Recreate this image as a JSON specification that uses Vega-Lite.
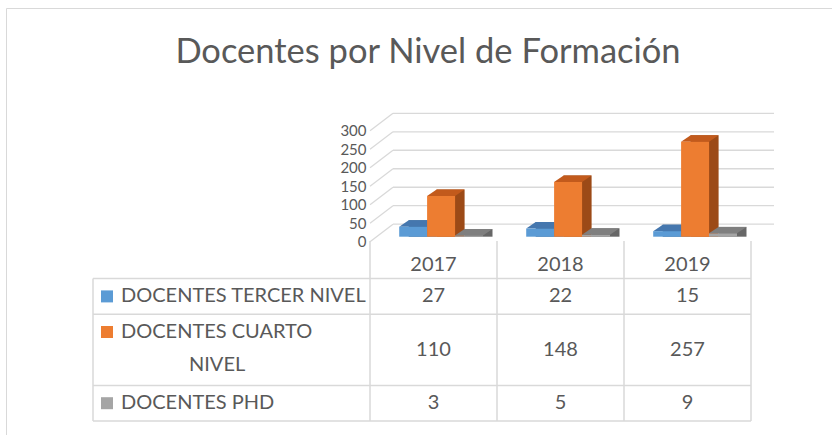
{
  "$schema": "https://vega.github.io/schema/vega-lite/v6.json",
  "width": 832,
  "height": 435,
  "autosize": {"type": "fit", "contains": "padding"},
  "padding": {"left": 6, "top": 8, "right": 0, "bottom": 0},
  "background": "white",
  "title": {"text": "Docentes por Nivel de Formación", "anchor": "middle", "offset": -89, "baseline": "alphabetic", "dx": 9, "fontSize": 34.5, "font": "Lato", "fontWeight": "normal", "color": "#595959"},
  "config": {
    "view": {"stroke": "#d9d9d9", "strokeWidth": 1},
    "axisX": {"disable": true},
    "text": {"font": "Lato", "fontSize": 20, "color": "#595959"}
  },
  "datasets": {
    "docentes": [
      {"anio": "2017", "serie": "DOCENTES TERCER NIVEL", "valor": 27},
      {"anio": "2017", "serie": "DOCENTES CUARTO NIVEL", "valor": 110},
      {"anio": "2017", "serie": "DOCENTES PHD", "valor": 3},
      {"anio": "2018", "serie": "DOCENTES TERCER NIVEL", "valor": 22},
      {"anio": "2018", "serie": "DOCENTES CUARTO NIVEL", "valor": 148},
      {"anio": "2018", "serie": "DOCENTES PHD", "valor": 5},
      {"anio": "2019", "serie": "DOCENTES TERCER NIVEL", "valor": 15},
      {"anio": "2019", "serie": "DOCENTES CUARTO NIVEL", "valor": 257},
      {"anio": "2019", "serie": "DOCENTES PHD", "valor": 9}
    ],
    "ticks": [
      {"valor": 0}, {"valor": 50}, {"valor": 100}, {"valor": 150}, {"valor": 200}, {"valor": 250}, {"valor": 300}
    ],
    "filas": [
      {"serie": "DOCENTES TERCER NIVEL", "linea1": "DOCENTES TERCER NIVEL", "linea2": ""},
      {"serie": "DOCENTES CUARTO NIVEL", "linea1": "DOCENTES CUARTO", "linea2": "NIVEL"},
      {"serie": "DOCENTES PHD", "linea1": "DOCENTES PHD", "linea2": ""}
    ]
  },
  "layer": [
    {
      "encoding": {
        "y": {"field": "valor", "type": "quantitative", "stack": null,
          "scale": {"domain": [0, 300], "range": [228.7, 117.8], "nice": false, "zero": true},
          "axis": {"offset": -364, "values": [0, 50, 100, 150, 200, 250, 300], "labelOverlap": false, "domain": false, "ticks": false, "grid": false, "labelPadding": 4, "labelOffset": 5, "labelFontSize": 15, "labelColor": "#595959", "labelFont": "Lato", "title": null}}
      },
      "layer": [
        {"data": {"name": "ticks"},
          "mark": {"type": "rule", "color": "#d9d9d9", "strokeWidth": 1.3, "xOffset": 23, "x2Offset": 23, "yOffset": -12.5},
          "encoding": {
            "x": {"datum": "2017", "type": "nominal", "bandPosition": 0, "scale": {"type": "band", "domain": ["2017", "2018", "2019"], "range": [364, 745], "paddingInner": 0, "paddingOuter": 0}},
            "x2": {"datum": "2019", "bandPosition": 1}
          }},
        {"data": {"name": "ticks"},
          "mark": {"type": "rule", "color": "#d9d9d9", "strokeWidth": 1.3, "x2Offset": 23, "yOffset": 5, "y2Offset": -12.5},
          "encoding": {
            "x": {"datum": "2017", "type": "nominal", "bandPosition": 0, "scale": {"type": "band", "domain": ["2017", "2018", "2019"], "range": [364, 745], "paddingInner": 0, "paddingOuter": 0}},
            "x2": {"datum": "2017", "bandPosition": 0},
            "y2": {"field": "valor"}
          }},
        {"data": {"name": "docentes"}, "transform": [{"filter": {"field": "serie", "equal": "DOCENTES TERCER NIVEL"}}],
          "mark": {"type": "bar", "width": 28, "xOffset": -10.8, "yOffset": -6.5, "color": "#3A6593"},
          "encoding": {"x": {"field": "anio", "type": "nominal", "scale": {"type": "band", "domain": ["2017", "2018", "2019"], "range": [364, 745], "paddingInner": 0, "paddingOuter": 0}}}},
        {"data": {"name": "docentes"}, "transform": [{"filter": {"field": "serie", "equal": "DOCENTES TERCER NIVEL"}}],
          "mark": {"type": "point", "shape": "M-1,0L1,0L1.679,-0.464L-0.321,-0.464Z", "size": 784, "filled": true, "opacity": 1, "strokeWidth": 0, "color": "#4577AE", "xOffset": -20.3},
          "encoding": {"x": {"field": "anio", "type": "nominal", "scale": {"type": "band", "domain": ["2017", "2018", "2019"], "range": [364, 745], "paddingInner": 0, "paddingOuter": 0}}}},
        {"data": {"name": "docentes"}, "transform": [{"filter": {"field": "serie", "equal": "DOCENTES TERCER NIVEL"}}],
          "mark": {"type": "bar", "width": 28, "xOffset": -20.3},
          "encoding": {"x": {"field": "anio", "type": "nominal", "scale": {"type": "band", "domain": ["2017", "2018", "2019"], "range": [364, 745], "paddingInner": 0, "paddingOuter": 0}},
            "color": {"field": "serie", "type": "nominal", "scale": {"domain": ["DOCENTES TERCER NIVEL", "DOCENTES CUARTO NIVEL", "DOCENTES PHD"], "range": ["#5B9BD5", "#ED7D31", "#A5A5A5"]}, "legend": null}}},
        {"data": {"name": "docentes"}, "transform": [{"filter": {"field": "serie", "equal": "DOCENTES CUARTO NIVEL"}}],
          "mark": {"type": "bar", "width": 28, "xOffset": 17.1, "yOffset": -6.5, "color": "#9C4A17"},
          "encoding": {"x": {"field": "anio", "type": "nominal", "scale": {"type": "band", "domain": ["2017", "2018", "2019"], "range": [364, 745], "paddingInner": 0, "paddingOuter": 0}}}},
        {"data": {"name": "docentes"}, "transform": [{"filter": {"field": "serie", "equal": "DOCENTES CUARTO NIVEL"}}],
          "mark": {"type": "point", "shape": "M-1,0L1,0L1.679,-0.464L-0.321,-0.464Z", "size": 784, "filled": true, "opacity": 1, "strokeWidth": 0, "color": "#C25A1C", "xOffset": 7.6},
          "encoding": {"x": {"field": "anio", "type": "nominal", "scale": {"type": "band", "domain": ["2017", "2018", "2019"], "range": [364, 745], "paddingInner": 0, "paddingOuter": 0}}}},
        {"data": {"name": "docentes"}, "transform": [{"filter": {"field": "serie", "equal": "DOCENTES CUARTO NIVEL"}}],
          "mark": {"type": "bar", "width": 28, "xOffset": 7.6},
          "encoding": {"x": {"field": "anio", "type": "nominal", "scale": {"type": "band", "domain": ["2017", "2018", "2019"], "range": [364, 745], "paddingInner": 0, "paddingOuter": 0}},
            "color": {"field": "serie", "type": "nominal", "legend": null}}},
        {"data": {"name": "docentes"}, "transform": [{"filter": {"field": "serie", "equal": "DOCENTES PHD"}}],
          "mark": {"type": "bar", "width": 28, "xOffset": 45, "yOffset": -6.5, "color": "#676767"},
          "encoding": {"x": {"field": "anio", "type": "nominal", "scale": {"type": "band", "domain": ["2017", "2018", "2019"], "range": [364, 745], "paddingInner": 0, "paddingOuter": 0}}}},
        {"data": {"name": "docentes"}, "transform": [{"filter": {"field": "serie", "equal": "DOCENTES PHD"}}],
          "mark": {"type": "point", "shape": "M-1,0L1,0L1.679,-0.464L-0.321,-0.464Z", "size": 784, "filled": true, "opacity": 1, "strokeWidth": 0, "color": "#7F7F7F", "xOffset": 35.5},
          "encoding": {"x": {"field": "anio", "type": "nominal", "scale": {"type": "band", "domain": ["2017", "2018", "2019"], "range": [364, 745], "paddingInner": 0, "paddingOuter": 0}}}},
        {"data": {"name": "docentes"}, "transform": [{"filter": {"field": "serie", "equal": "DOCENTES PHD"}}],
          "mark": {"type": "bar", "width": 28, "xOffset": 35.5},
          "encoding": {"x": {"field": "anio", "type": "nominal", "scale": {"type": "band", "domain": ["2017", "2018", "2019"], "range": [364, 745], "paddingInner": 0, "paddingOuter": 0}},
            "color": {"field": "serie", "type": "nominal", "legend": null}}}
      ]
    },
    {
      "layer": [
        {"data": {"name": "docentes"}, "transform": [{"filter": {"field": "serie", "equal": "DOCENTES TERCER NIVEL"}}],
          "mark": {"type": "rule", "color": "#d9d9d9", "strokeWidth": 1.5, "yOffset": -2},
          "encoding": {
            "x": {"field": "anio", "type": "nominal", "bandPosition": 0, "scale": {"type": "band", "domain": ["2017", "2018", "2019"], "range": [364, 745], "paddingInner": 0, "paddingOuter": 0}},
            "y": {"datum": "encabezado", "type": "nominal", "bandPosition": 0, "axis": null, "scale": {"type": "band", "domain": ["encabezado", "DOCENTES TERCER NIVEL", "DOCENTES CUARTO NIVEL", "DOCENTES CUARTO NIVEL (2)", "DOCENTES PHD"], "range": [235, 413], "paddingInner": 0, "paddingOuter": 0}},
            "y2": {"datum": "DOCENTES PHD", "bandPosition": 1}
          }},
        {"data": {"values": [{}]},
          "mark": {"type": "rule", "color": "#d9d9d9", "strokeWidth": 1.5, "yOffset": -2},
          "encoding": {
            "x": {"datum": "2019", "type": "nominal", "bandPosition": 1, "scale": {"type": "band", "domain": ["2017", "2018", "2019"], "range": [364, 745], "paddingInner": 0, "paddingOuter": 0}},
            "y": {"datum": "encabezado", "type": "nominal", "bandPosition": 0, "axis": null},
            "y2": {"datum": "DOCENTES PHD", "bandPosition": 1}
          }},
        {"data": {"name": "filas"},
          "mark": {"type": "rule", "color": "#d9d9d9", "strokeWidth": 1.5},
          "encoding": {
            "x": {"datum": "2017", "type": "nominal", "bandPosition": 0, "scale": {"type": "band", "domain": ["2017", "2018", "2019"], "range": [364, 745], "paddingInner": 0, "paddingOuter": 0}},
            "x2": {"datum": "2019", "bandPosition": 1},
            "y": {"field": "serie", "type": "nominal", "bandPosition": 0, "axis": null}
          }},
        {"data": {"values": [{}]},
          "mark": {"type": "rule", "color": "#d9d9d9", "strokeWidth": 1.5},
          "encoding": {
            "x": {"datum": "2017", "type": "nominal", "bandPosition": 0, "scale": {"type": "band", "domain": ["2017", "2018", "2019"], "range": [364, 745], "paddingInner": 0, "paddingOuter": 0}},
            "x2": {"datum": "2019", "bandPosition": 1},
            "y": {"datum": "DOCENTES PHD", "type": "nominal", "bandPosition": 1, "axis": null}
          }},
        {"data": {"name": "docentes"}, "transform": [{"filter": {"field": "serie", "equal": "DOCENTES TERCER NIVEL"}}],
          "mark": {"type": "text", "dy": 4},
          "encoding": {
            "x": {"field": "anio", "type": "nominal", "scale": {"type": "band", "domain": ["2017", "2018", "2019"], "range": [364, 745], "paddingInner": 0, "paddingOuter": 0}},
            "y": {"datum": "encabezado", "type": "nominal", "axis": null},
            "text": {"field": "anio"}
          }},
        {"data": {"name": "docentes"}, "transform": [{"filter": {"field": "serie", "oneOf": ["DOCENTES TERCER NIVEL", "DOCENTES PHD"]}}],
          "mark": {"type": "text"},
          "encoding": {
            "x": {"field": "anio", "type": "nominal", "scale": {"type": "band", "domain": ["2017", "2018", "2019"], "range": [364, 745], "paddingInner": 0, "paddingOuter": 0}},
            "y": {"field": "serie", "type": "nominal", "axis": null},
            "text": {"field": "valor"}
          }},
        {"data": {"name": "docentes"}, "transform": [{"filter": {"field": "serie", "equal": "DOCENTES CUARTO NIVEL"}}],
          "mark": {"type": "text"},
          "encoding": {
            "x": {"field": "anio", "type": "nominal", "scale": {"type": "band", "domain": ["2017", "2018", "2019"], "range": [364, 745], "paddingInner": 0, "paddingOuter": 0}},
            "y": {"field": "serie", "type": "nominal", "bandPosition": 1, "axis": null},
            "text": {"field": "valor"}
          }}
      ]
    },
    {
      "layer": [
        {"data": {"name": "filas"},
          "mark": {"type": "rule", "color": "#d9d9d9", "strokeWidth": 1.5},
          "encoding": {
            "x": {"datum": "etiqueta", "type": "nominal", "bandPosition": 0, "scale": {"type": "band", "domain": ["etiqueta"], "range": [87, 364], "paddingInner": 0, "paddingOuter": 0}},
            "x2": {"datum": "etiqueta", "bandPosition": 1},
            "y": {"field": "serie", "type": "nominal", "bandPosition": 0, "axis": null, "scale": {"type": "band", "domain": ["encabezado", "DOCENTES TERCER NIVEL", "DOCENTES CUARTO NIVEL", "DOCENTES CUARTO NIVEL (2)", "DOCENTES PHD"], "range": [235, 413], "paddingInner": 0, "paddingOuter": 0}}
          }},
        {"data": {"values": [{}]},
          "mark": {"type": "rule", "color": "#d9d9d9", "strokeWidth": 1.5},
          "encoding": {
            "x": {"datum": "etiqueta", "type": "nominal", "bandPosition": 0},
            "x2": {"datum": "etiqueta", "bandPosition": 1},
            "y": {"datum": "DOCENTES PHD", "type": "nominal", "bandPosition": 1, "axis": null}
          }},
        {"data": {"values": [{}]},
          "mark": {"type": "rule", "color": "#d9d9d9", "strokeWidth": 1.5},
          "encoding": {
            "x": {"datum": "etiqueta", "type": "nominal", "bandPosition": 0},
            "y": {"datum": "DOCENTES TERCER NIVEL", "type": "nominal", "bandPosition": 0, "axis": null},
            "y2": {"datum": "DOCENTES PHD", "bandPosition": 1}
          }},
        {"data": {"name": "filas"},
          "mark": {"type": "point", "shape": "square", "size": 144, "filled": true, "opacity": 1, "strokeWidth": 0, "xOffset": 14},
          "encoding": {
            "x": {"datum": "etiqueta", "type": "nominal", "bandPosition": 0},
            "y": {"field": "serie", "type": "nominal", "axis": null},
            "color": {"field": "serie", "type": "nominal", "legend": null}
          }},
        {"data": {"name": "filas"},
          "mark": {"type": "text", "align": "left", "xOffset": 28},
          "encoding": {
            "x": {"datum": "etiqueta", "type": "nominal", "bandPosition": 0},
            "y": {"field": "serie", "type": "nominal", "axis": null},
            "text": {"field": "linea1"}
          }},
        {"data": {"name": "filas"}, "transform": [{"filter": {"field": "linea2", "equal": "NIVEL"}}],
          "mark": {"type": "text", "align": "center", "yOffset": -3},
          "encoding": {
            "x": {"datum": "etiqueta", "type": "nominal", "bandPosition": 0.448},
            "y": {"datum": "DOCENTES CUARTO NIVEL (2)", "type": "nominal", "axis": null},
            "text": {"field": "linea2"}
          }}
      ]
    }
  ],
  "resolve": {"scale": {"x": "independent", "y": "independent"}}
}
